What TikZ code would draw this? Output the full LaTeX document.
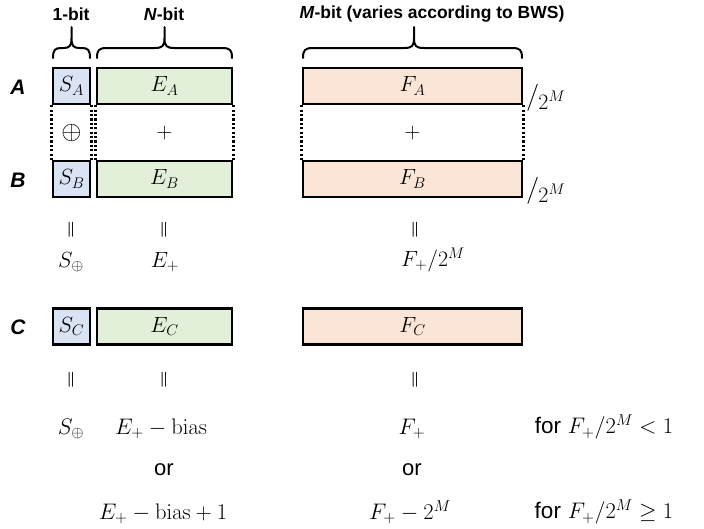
\documentclass[tikz,border=0pt]{standalone}
\usepackage{fix-cm}
\usepackage[no-math]{fontspec}
\newfontfamily\arial{Liberation Sans}
\definecolor{sblue}{RGB}{218,227,243}
\definecolor{egreen}{RGB}{226,240,217}
\definecolor{fpeach}{RGB}{251,229,214}
\newcommand\mybrace[4]{%
  \draw[brc] (#1,58) .. controls (#1,50) and (#1+2,48) .. (#1+#4,48) -- (#2-#4,48)
    .. controls (#2-2,48) and (#2,46) .. (#2,38) -- (#2,27)
    -- (#2,38) .. controls (#2,46) and (#2+2,48) .. (#2+#4,48) -- (#3-#4,48)
    .. controls (#3-2,48) and (#3,50) .. (#3,58);}
\newcommand\slashtwo{{\fontsize{27}{27}\selectfont$/$}\kern-1pt\raisebox{-5pt}{\fontsize{22}{24}\selectfont$2^{M}$}}
\begin{document}
\begin{tikzpicture}[x=1pt,y=-1pt,
  bx/.style={draw, line width=2.5pt, inner sep=0pt, font=\fontsize{22}{24}\selectfont},
  sb/.style={bx, fill=sblue, minimum width=37pt, minimum height=36pt},
  eb/.style={bx, fill=egreen, minimum width=135pt, minimum height=36pt},
  fb/.style={bx, fill=fpeach, minimum width=219pt, minimum height=36pt},
  brc/.style={line width=2pt, line join=round, line cap=round},
  dots/.style={line width=2.8pt, dash pattern=on 2.2pt off 2.2pt},
  hdr/.style={font=\arial\bfseries\fontsize{17.5}{20}\selectfont, inner sep=0pt},
  row/.style={font=\arial\bfseries\itshape\fontsize{21}{22}\selectfont, inner sep=0pt},
  mth/.style={font=\fontsize{22}{24}\selectfont, inner sep=0pt},
  bmth/.style={font=\fontsize{22.5}{24}\selectfont, inner sep=0pt},
  txt/.style={font=\arial\fontsize{22}{24}\selectfont, inner sep=0pt},
  eqs/.style={font=\boldmath\fontsize{15}{16}\selectfont, inner sep=0pt}]
\useasboundingbox (0,0) rectangle (704,528);

% headers
\node[hdr] (l1) at (71,14) {1-bit};
\node[hdr] (lN) at (164,14) {\textit{N}-bit};
\node[hdr] (lM) at (432,14) {\textit{M}-bit (varies according to BWS)};
\mybrace{53}{71.5}{90}{8}
\mybrace{97}{164.5}{232}{10}
\mybrace{303}{414}{522}{10}

% row labels
\node[row] (rA) at (18,87) {A};
\node[row] (rB) at (18,180) {B};
\node[row] (rC) at (18,327) {C};

% boxes
\node[sb] (SA) at (71.5,86) {$S_A$};
\node[eb] (EA) at (164.5,86) {$E_A$};
\node[fb] (FA) at (412.5,86) {$F_A$};
\node[sb] (SB) at (71.5,179) {$S_B$};
\node[eb] (EB) at (164.5,179) {$E_B$};
\node[fb] (FB) at (412.5,179) {$F_B$};
\node[sb] (SC) at (71.5,326.5) {$S_C$};
\node[eb] (EC) at (164.5,326.5) {$E_C$};
\node[fb] (FC) at (412.5,326.5) {$F_C$};

% dotted connections
\draw[dots] (SA.south west) -- (SB.north west);
\draw[dots] (SA.south east) -- (SB.north east);
\draw[dots] (EA.south west) -- (EB.north west);
\draw[dots] (EA.south east) -- (EB.north east);
\draw[dots] (FA.south west) -- (FB.north west);
\draw[dots] (FA.south east) -- (FB.north east);

\node[mth, font=\fontsize{26}{28}\selectfont] (xo) at (71.5,133) {$\oplus$};
\node[mth] (pe) at (164.5,133) {$+$};
\node[mth] (pf) at (412.5,133) {$+$};

% /2^M
\node[anchor=base west, inner sep=0pt] (dA) at (526,104) {\slashtwo};
\node[anchor=base west, inner sep=0pt] (dB) at (526,197) {\slashtwo};

% equals
\node[eqs] (q1) at (71,230) {$\Vert$};
\node[eqs] (q2) at (164,230) {$\Vert$};
\node[eqs] (q3) at (415,230) {$\Vert$};
\node[mth] (s1) at (71,262) {$S_{\oplus}$};
\node[mth] (e1) at (165,262) {$E_{+}$};
\node[mth] (f1) at (433,260) {$F_{+}/2^{M}$};

\node[eqs] (q4) at (71,380) {$\Vert$};
\node[eqs] (q5) at (164,380) {$\Vert$};
\node[eqs] (q6) at (415,380) {$\Vert$};

\node[bmth] (s2) at (71,429) {$S_{\oplus}$};
\node[bmth] (e2) at (161,429) {$E_{+}-\mathrm{bias}$};
\node[txt] (o1) at (164,470) {or};
\node[bmth] (e3) at (163,514) {$E_{+}-\mathrm{bias}+1$};
\node[bmth] (f2) at (412,429) {$F_{+}$};
\node[txt] (o2) at (412,470) {or};
\node[bmth] (f3) at (410,512) {$F_{+}-2^{M}$};
\node[bmth] (c1) at (604,427) {{\arial for} $F_{+}/2^{M}<1$};
\node[bmth] (c2) at (604,512) {{\arial for} $F_{+}/2^{M}\geq 1$};
\end{tikzpicture}
\end{document}
